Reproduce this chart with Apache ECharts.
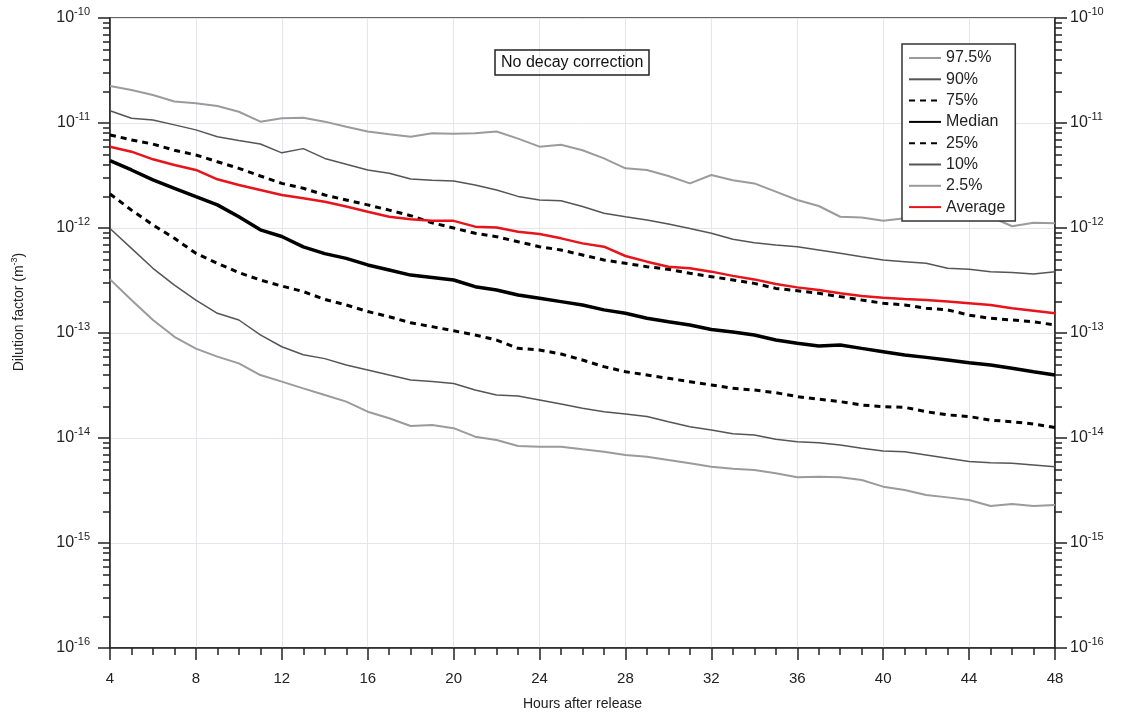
<!DOCTYPE html>
<html>
<head>
<meta charset="utf-8">
<script src="https://cdn.jsdelivr.net/npm/echarts@6/dist/echarts.min.js"></script>
<style>
  html, body { margin: 0; padding: 0; background: #fff; }
  #chart { width: 1121px; height: 713px; }
</style>
</head>
<body>
<div id="chart"></div>
<script>
// hours after release, one point per hour
const hours = [4, 5, 6, 7, 8, 9, 10, 11, 12, 13, 14, 15, 16, 17, 18, 19, 20, 21, 22, 23, 24, 25, 26,
  27, 28, 29, 30, 31, 32, 33, 34, 35, 36, 37, 38, 39, 40, 41, 42, 43, 44, 45, 46, 47, 48]

const p975 = [2.25e-11, 2.06e-11, 1.85e-11, 1.60e-11, 1.54e-11, 1.45e-11, 1.28e-11, 1.03e-11, 1.11e-11,
  1.12e-11, 1.03e-11, 9.2e-12, 8.3e-12, 7.8e-12, 7.4e-12, 8.0e-12, 7.9e-12, 8.0e-12, 8.3e-12, 7.1e-12,
  5.95e-12, 6.2e-12, 5.5e-12, 4.6e-12, 3.7e-12, 3.57e-12, 3.13e-12, 2.66e-12, 3.2e-12, 2.85e-12, 2.66e-12,
  2.22e-12, 1.85e-12, 1.62e-12, 1.28e-12, 1.26e-12, 1.17e-12, 1.24e-12, 1.33e-12, 1.21e-12, 1.43e-12,
  1.28e-12, 1.04e-12, 1.12e-12, 1.11e-12]
const p90 = [1.31e-11, 1.11e-11, 1.07e-11, 9.6e-12, 8.6e-12, 7.4e-12, 6.8e-12, 6.3e-12, 5.2e-12, 5.7e-12,
  4.6e-12, 4.04e-12, 3.57e-12, 3.32e-12, 2.93e-12, 2.85e-12, 2.8e-12, 2.57e-12, 2.3e-12, 2.0e-12, 1.85e-12,
  1.82e-12, 1.6e-12, 1.38e-12, 1.28e-12, 1.19e-12, 1.09e-12, 9.9e-13, 8.9e-13, 7.8e-13, 7.25e-13, 6.9e-13,
  6.64e-13, 6.17e-13, 5.74e-13, 5.33e-13, 4.96e-13, 4.78e-13, 4.61e-13, 4.13e-13, 4.04e-13, 3.84e-13,
  3.76e-13, 3.65e-13, 3.84e-13]
const p75 = [7.7e-12, 6.9e-12, 6.3e-12, 5.5e-12, 4.96e-12, 4.28e-12, 3.7e-12, 3.13e-12, 2.66e-12, 2.39e-12,
  2.06e-12, 1.85e-12, 1.66e-12, 1.48e-12, 1.31e-12, 1.12e-12, 1.0e-12, 8.9e-13, 8.27e-13, 7.4e-13, 6.64e-13,
  6.17e-13, 5.53e-13, 4.96e-13, 4.61e-13, 4.28e-13, 4.04e-13, 3.7e-13, 3.44e-13, 3.2e-13, 2.97e-13,
  2.66e-13, 2.53e-13, 2.39e-13, 2.22e-13, 2.06e-13, 1.92e-13, 1.85e-13, 1.72e-13, 1.66e-13, 1.48e-13,
  1.38e-13, 1.33e-13, 1.28e-13, 1.19e-13]
const median = [4.38e-12, 3.57e-12, 2.87e-12, 2.39e-12, 1.99e-12, 1.66e-12, 1.28e-12, 9.6e-13, 8.3e-13,
  6.6e-13, 5.7e-13, 5.14e-13, 4.45e-13, 3.98e-13, 3.56e-13, 3.38e-13, 3.2e-13, 2.76e-13, 2.57e-13, 2.3e-13,
  2.14e-13, 1.99e-13, 1.85e-13, 1.66e-13, 1.54e-13, 1.38e-13, 1.28e-13, 1.19e-13, 1.08e-13, 1.02e-13,
  9.57e-14, 8.57e-14, 7.97e-14, 7.52e-14, 7.69e-14, 7.14e-14, 6.64e-14, 6.17e-14, 5.86e-14, 5.53e-14,
  5.22e-14, 4.96e-14, 4.61e-14, 4.28e-14, 3.98e-14]
const p25 = [2.11e-12, 1.48e-12, 1.07e-12, 7.97e-13, 5.74e-13, 4.61e-13, 3.76e-13, 3.2e-13, 2.8e-13,
  2.48e-13, 2.09e-13, 1.85e-13, 1.6e-13, 1.43e-13, 1.25e-13, 1.15e-13, 1.05e-13, 9.57e-14, 8.57e-14,
  7.14e-14, 6.89e-14, 6.31e-14, 5.53e-14, 4.78e-14, 4.28e-14, 3.98e-14, 3.7e-14, 3.44e-14, 3.2e-14,
  2.97e-14, 2.86e-14, 2.7e-14, 2.48e-14, 2.34e-14, 2.22e-14, 2.06e-14, 1.99e-14, 1.96e-14, 1.78e-14,
  1.66e-14, 1.6e-14, 1.48e-14, 1.43e-14, 1.36e-14, 1.26e-14]
const p10 = [9.9e-13, 6.4e-13, 4.13e-13, 2.86e-13, 2.06e-13, 1.54e-13, 1.33e-13, 9.6e-14, 7.4e-14, 6.2e-14,
  5.7e-14, 4.96e-14, 4.45e-14, 3.98e-14, 3.57e-14, 3.45e-14, 3.3e-14, 2.86e-14, 2.57e-14, 2.51e-14,
  2.3e-14, 2.11e-14, 1.92e-14, 1.78e-14, 1.69e-14, 1.6e-14, 1.43e-14, 1.28e-14, 1.19e-14, 1.1e-14,
  1.07e-14, 9.71e-15, 9.23e-15, 9.03e-15, 8.57e-15, 7.97e-15, 7.52e-15, 7.41e-15, 6.89e-15, 6.4e-15,
  5.96e-15, 5.82e-15, 5.74e-15, 5.53e-15, 5.33e-15]
const p25b = [3.24e-13, 2.06e-13, 1.33e-13, 9.2e-14, 7.1e-14, 5.96e-14, 5.14e-14, 3.98e-14, 3.44e-14,
  2.97e-14, 2.57e-14, 2.22e-14, 1.78e-14, 1.54e-14, 1.3e-14, 1.33e-14, 1.24e-14, 1.03e-14, 9.57e-15,
  8.4e-15, 8.27e-15, 8.27e-15, 7.8e-15, 7.41e-15, 6.89e-15, 6.64e-15, 6.17e-15, 5.74e-15, 5.33e-15,
  5.1e-15, 4.96e-15, 4.61e-15, 4.22e-15, 4.28e-15, 4.22e-15, 3.98e-15, 3.44e-15, 3.2e-15, 2.86e-15,
  2.72e-15, 2.57e-15, 2.25e-15, 2.35e-15, 2.25e-15, 2.3e-15]
const average = [5.95e-12, 5.33e-12, 4.51e-12, 3.98e-12, 3.57e-12, 2.91e-12, 2.57e-12, 2.3e-12, 2.06e-12,
  1.92e-12, 1.78e-12, 1.6e-12, 1.43e-12, 1.28e-12, 1.21e-12, 1.17e-12, 1.17e-12, 1.03e-12, 1.01e-12,
  9.2e-13, 8.77e-13, 7.97e-13, 7.14e-13, 6.64e-13, 5.41e-13, 4.78e-13, 4.28e-13, 4.13e-13, 3.84e-13,
  3.5e-13, 3.24e-13, 2.93e-13, 2.72e-13, 2.57e-13, 2.39e-13, 2.25e-13, 2.17e-13, 2.11e-13, 2.06e-13,
  1.99e-13, 1.92e-13, 1.85e-13, 1.72e-13, 1.63e-13, 1.54e-13]

// decade ticks and the 2..9 minor ticks of the log axis
const decadeExps = [-16, -15, -14, -13, -12, -11, -10]
const majorTicks = decadeExps.map(e => Math.pow(10, e))
const minorTicks = []
decadeExps.slice(0, -1).forEach(e => {
  for (let k = 2; k <= 9; k++) minorTicks.push(k * Math.pow(10, e))
})

const FONT = 'Liberation Sans'
const chart = echarts.init(document.getElementById('chart'))

const pair = arr => hours.map((h, i) => [h, arr[i]])

const supRich = {
  b: { fontSize: 16, color: '#222', fontFamily: FONT },
  s: { fontSize: 11, color: '#222', fontFamily: FONT, padding: [0, 0, 13, 0] }
}

function logAxis (position, major) {
  return {
    type: 'log',
    logBase: 10,
    min: 1e-16,
    max: 1e-10,
    position: position,
    axisLine: { show: major, lineStyle: { color: '#222', width: 1.5 } },
    axisTick: {
      show: true,
      length: major ? 12 : 7,
      customValues: major ? majorTicks : minorTicks,
      lineStyle: { color: '#222', width: 1.5 }
    },
    axisLabel: {
      show: major,
      customValues: majorTicks,
      margin: position === 'left' ? 20 : 15,
      formatter: v => '{b|10}{s|' + Math.round(Math.log10(v)) + '}',
      rich: supRich
    },
    splitLine: { show: false },
    minorTick: { show: false }
  }
}

const leftAxis = logAxis('left', true)
leftAxis.splitLine = { show: true, lineStyle: { color: '#e4e5ee', width: 1 } }
leftAxis.name = '{n|Dilution factor (m}{s|-3}{n|)}'
leftAxis.nameLocation = 'middle'
leftAxis.nameGap = 82
leftAxis.nameTextStyle = {
  padding: [0, 0, 0, 42],
  rich: {
    n: { fontSize: 14, color: '#222', fontFamily: FONT },
    s: { fontSize: 9, color: '#222', fontFamily: FONT, padding: [0, 0, 9, 0] }
  }
}

function lineSeries (name, arr, color, width, type) {
  return {
    name: name,
    type: 'line',
    data: pair(arr),
    symbol: 'none',
    showSymbol: false,
    smooth: false,
    lineStyle: { color: color, width: width, type: type || 'solid' },
    itemStyle: { color: color },
    emphasis: { disabled: true },
    z: 2
  }
}

const option = {
  animation: false,
  backgroundColor: '#fff',
  textStyle: { fontFamily: FONT },
  title: {
    text: 'No decay correction',
    left: 495,
    top: 50,
    padding: [5, 6, 4, 6],
    borderColor: '#222',
    borderWidth: 1.5,
    textStyle: { fontSize: 16, fontWeight: 'normal', color: '#111', fontFamily: FONT }
  },
  legend: {
    orient: 'vertical',
    left: 902,
    top: 44,
    padding: [6, 10, 6, 6],
    itemWidth: 32,
    itemHeight: 14,
    itemGap: 5.3,
    borderColor: '#333',
    borderWidth: 1.5,
    backgroundColor: '#fff',
    itemStyle: { opacity: 0 },
    textStyle: { fontSize: 16, color: '#222', fontFamily: FONT },
    data: ['97.5%', '90%', '75%', 'Median', '25%', '10%', '2.5%', 'Average']
  },
  grid: {
    left: 110,
    right: 66,
    top: 18,
    bottom: 65,
    outerBoundsMode: 'none',
    containLabel: false,
    show: true,
    borderColor: '#333',
    borderWidth: 1.5
  },
  xAxis: {
    type: 'value',
    min: 4,
    max: 48,
    interval: 4,
    name: 'Hours after release',
    nameLocation: 'middle',
    nameGap: 49,
    nameTextStyle: { fontSize: 14, color: '#222', fontFamily: FONT },
    axisLine: { lineStyle: { color: '#222', width: 1.5 } },
    axisTick: { length: 12, lineStyle: { color: '#222', width: 1.5 } },
    minorTick: { show: true, splitNumber: 4, length: 7, lineStyle: { color: '#222', width: 1.5 } },
    axisLabel: { fontSize: 15, color: '#222', margin: 23, fontFamily: FONT },
    splitLine: { show: true, lineStyle: { color: '#e4e5ee', width: 1 } }
  },
  yAxis: [
    leftAxis,
    logAxis('left', false),
    logAxis('right', true),
    logAxis('right', false)
  ],
  series: [
    lineSeries('97.5%', p975, '#9b9b9b', 2),
    lineSeries('90%', p90, '#555555', 1.5),
    lineSeries('75%', p75, '#000000', 3, [6, 5]),
    lineSeries('Median', median, '#000000', 3.5),
    lineSeries('25%', p25, '#000000', 3, [6, 5]),
    lineSeries('10%', p10, '#555555', 1.5),
    lineSeries('2.5%', p25b, '#9b9b9b', 2),
    lineSeries('Average', average, '#e8141b', 2.5)
  ]
}

chart.setOption(option)
</script>
</body>
</html>
